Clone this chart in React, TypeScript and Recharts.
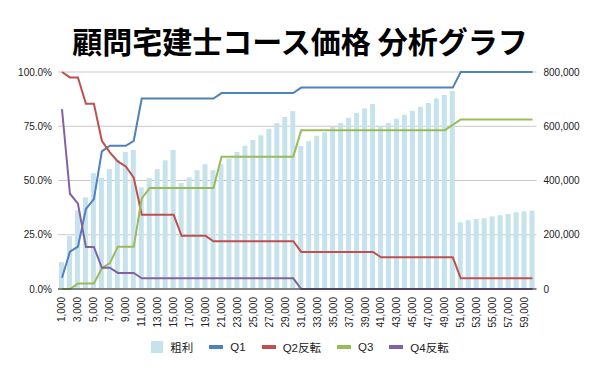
import React from 'react';
import {
  ComposedChart,
  Bar,
  Line,
  XAxis,
  YAxis,
  CartesianGrid,
  Legend,
} from 'recharts';

const prices = [
  1000, 2000, 3000, 4000, 5000, 6000, 7000, 8000, 9000, 10000,
  11000, 12000, 13000, 14000, 15000, 16000, 17000, 18000, 19000, 20000,
  21000, 22000, 23000, 24000, 25000, 26000, 27000, 28000, 29000, 30000,
  31000, 32000, 33000, 34000, 35000, 36000, 37000, 38000, 39000, 40000,
  41000, 42000, 43000, 44000, 45000, 46000, 47000, 48000, 49000, 50000,
  51000, 52000, 53000, 54000, 55000, 56000, 57000, 58000, 59000, 60000,
];

// 粗利 (right axis, yen)
const grossProfit = [
  99000, 195000, 290000, 338000, 427000, 409000, 442000, 476000, 505000, 512000,
  375000, 409000, 442000, 475000, 512000, 391000, 412000, 438000, 460000, 438000,
  460000, 481000, 505000, 528000, 549000, 567000, 590000, 612000, 634000, 656000,
  527000, 545000, 565000, 578000, 597000, 612000, 630000, 649000, 665000, 682000,
  598000, 612000, 628000, 642000, 657000, 672000, 686000, 702000, 715000, 730000,
  246000, 254000, 258000, 261000, 268000, 272000, 276000, 283000, 286000, 289000,
];

// left axis, percent
const q1 = [
  5.2, 17.2, 19.5, 36.9, 41.4, 63.4, 66, 66, 66, 68.3,
  87.8, 87.8, 87.8, 87.8, 87.8, 87.8, 87.8, 87.8, 87.8, 87.8,
  90.3, 90.3, 90.3, 90.3, 90.3, 90.3, 90.3, 90.3, 90.3, 90.3,
  92.8, 92.8, 92.8, 92.8, 92.8, 92.8, 92.8, 92.8, 92.8, 92.8,
  92.8, 92.8, 92.8, 92.8, 92.8, 92.8, 92.8, 92.8, 92.8, 92.8,
  100, 100, 100, 100, 100, 100, 100, 100, 100, 100,
];

const q2Rev = [
  100, 97.5, 97.5, 85.4, 85.4, 68.3, 63, 58.8, 56.5, 51.3,
  34.2, 34.2, 34.2, 34.2, 34.2, 24.5, 24.5, 24.5, 24.5, 22,
  22, 22, 22, 22, 22, 22, 22, 22, 22, 22,
  17.1, 17.1, 17.1, 17.1, 17.1, 17.1, 17.1, 17.1, 17.1, 17.1,
  14.6, 14.6, 14.6, 14.6, 14.6, 14.6, 14.6, 14.6, 14.6, 14.6,
  4.9, 4.9, 4.9, 4.9, 4.9, 4.9, 4.9, 4.9, 4.9, 4.9,
];

const q3 = [
  0, 0, 2.5, 2.5, 2.5, 9.6, 11.9, 19.5, 19.5, 19.5,
  41.8, 46.5, 46.5, 46.5, 46.5, 46.5, 46.5, 46.5, 46.5, 46.5,
  61, 61, 61, 61, 61, 61, 61, 61, 61, 61,
  73.2, 73.2, 73.2, 73.2, 73.2, 73.2, 73.2, 73.2, 73.2, 73.2,
  73.2, 73.2, 73.2, 73.2, 73.2, 73.2, 73.2, 73.2, 73.2, 75.6,
  78.1, 78.1, 78.1, 78.1, 78.1, 78.1, 78.1, 78.1, 78.1, 78.1,
];

const q4Rev = [
  82.9, 43.9, 39.3, 19.4, 19.4, 9.8, 9.8, 7.4, 7.4, 7.4,
  4.9, 4.9, 4.9, 4.9, 4.9, 4.9, 4.9, 4.9, 4.9, 4.9,
  4.9, 4.9, 4.9, 4.9, 4.9, 4.9, 4.9, 4.9, 4.9, 4.9,
  0, 0, 0, 0, 0, 0, 0, 0, 0, 0,
  0, 0, 0, 0, 0, 0, 0, 0, 0, 0,
  0, 0, 0, 0, 0, 0, 0, 0, 0, 0,
];

const leftTicks = [0, 25, 50, 75, 100];
const rightTicks = [0, 200000, 400000, 600000, 800000];

const data = prices.map((price, i) => ({
  price,
  gross: grossProfit[i],
  q1: q1[i],
  q2: q2Rev[i],
  q3: q3[i],
  q4: q4Rev[i],
}));

const FONT = '"Liberation Sans", Arial, sans-serif';
const JP_FONT = '"Liberation Sans", "Noto Sans CJK JP", sans-serif';

const legendItems = [
  { name: '粗利', color: '#c6e3ec', kind: 'bar' },
  { name: 'Q1', color: '#4f81bd', kind: 'line' },
  { name: 'Q2反転', color: '#c0504d', kind: 'line' },
  { name: 'Q3', color: '#9bbb59', kind: 'line' },
  { name: 'Q4反転', color: '#8064a2', kind: 'line' },
];

function PriceTick({ x, y, payload }: any) {
  return (
    <text
      x={x}
      y={y}
      transform={`rotate(-90, ${x}, ${y})`}
      textAnchor="end"
      dominantBaseline="central"
      fontSize={10}
      fontFamily={FONT}
      fill="#222"
    >
      {Number(payload.value).toLocaleString('en-US')}
    </text>
  );
}

function ChartLegend() {
  return (
    <div
      style={{
        height: 20,
        display: 'flex',
        justifyContent: 'center',
        alignItems: 'center',
        fontFamily: JP_FONT,
        fontSize: 11.5,
        color: '#222',
      }}
    >
      {legendItems.map((item, i) => (
        <div
          key={item.name}
          style={{ display: 'flex', alignItems: 'center', marginRight: i === legendItems.length - 1 ? 0 : 16 }}
        >
          <span
            style={{
              display: 'inline-block',
              width: item.kind === 'bar' ? 12 : 14,
              height: item.kind === 'bar' ? 12 : 4,
              background: item.color,
              marginRight: 7,
            }}
          />
          <span>{item.name}</span>
        </div>
      ))}
    </div>
  );
}

export default function App() {
  return (
    <div style={{ position: 'absolute', left: 0, top: 0, width: 600, height: 371, background: '#fff' }}>
      <div
        style={{
          position: 'absolute',
          left: 0,
          top: 25,
          width: 600,
          textAlign: 'center',
          fontFamily: '"Noto Sans CJK JP", sans-serif',
          fontWeight: 700,
          fontSize: 30,
          lineHeight: '30px',
          color: '#000',
          whiteSpace: 'nowrap',
        }}
      >
        顧問宅建士コース価格 分析グラフ
      </div>
      <ComposedChart
        width={600}
        height={371}
        data={data}
        margin={{ top: 72, right: 0, bottom: 14, left: 0 }}
        barCategoryGap={0}
      >
        <CartesianGrid yAxisId="left" vertical={false} stroke="#c8c8c8" />
        <XAxis
          dataKey="price"
          interval={1}
          tickLine={false}
          axisLine={{ stroke: '#222' }}
          height={48}
          tick={<PriceTick />}
        />
        <YAxis
          yAxisId="left"
          domain={[0, 100]}
          ticks={leftTicks}
          width={58}
          axisLine={false}
          tickLine={false}
          tickSize={4}
          tickMargin={2}
          tickFormatter={(v: number) => `${v.toFixed(1)}%`}
          tick={{ fontSize: 10, fontFamily: FONT, fill: '#222' }}
        />
        <YAxis
          yAxisId="right"
          orientation="right"
          domain={[0, 800000]}
          ticks={rightTicks}
          width={63.5}
          axisLine={false}
          tickLine={false}
          tickSize={5}
          tickMargin={2}
          tickFormatter={(v: number) => v.toLocaleString('en-US')}
          tick={{ fontSize: 10, fontFamily: FONT, fill: '#222' }}
        />
        <Legend verticalAlign="bottom" content={<ChartLegend />} />
        <Bar yAxisId="right" dataKey="gross" name="粗利" fill="#c6e3ec" barSize={5} isAnimationActive={false} />
        <Line yAxisId="left" dataKey="q1" name="Q1" stroke="#4f81bd" strokeWidth={2} dot={false} isAnimationActive={false} />
        <Line yAxisId="left" dataKey="q2" name="Q2反転" stroke="#c0504d" strokeWidth={2} dot={false} isAnimationActive={false} />
        <Line yAxisId="left" dataKey="q3" name="Q3" stroke="#9bbb59" strokeWidth={2} dot={false} isAnimationActive={false} />
        <Line yAxisId="left" dataKey="q4" name="Q4反転" stroke="#8064a2" strokeWidth={2} dot={false} isAnimationActive={false} />
      </ComposedChart>
    </div>
  );
}
